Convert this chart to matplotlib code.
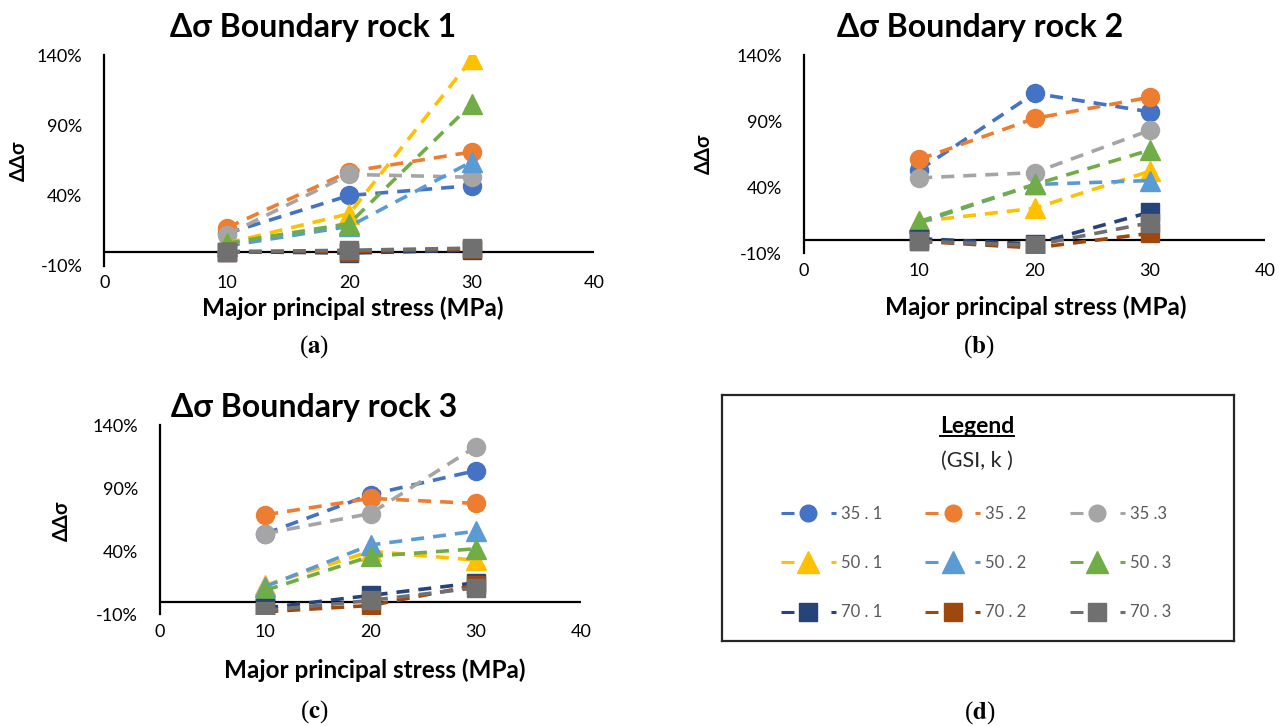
import numpy as np
import matplotlib
matplotlib.use('Agg')
from matplotlib import pyplot as plt
from matplotlib.lines import Line2D
from matplotlib.ticker import FuncFormatter

plt.rcParams['font.family'] = ['Lato', 'Noto Sans', 'DejaVu Sans']
plt.rcParams['mathtext.fontset'] = 'stix'

# stress levels (MPa) and series names (GSI, k)
stress = [10, 20, 30]
series = ['35 . 1', '35 . 2', '35 .3', '50 . 1', '50 . 2', '50 . 3', '70 . 1', '70 . 2', '70 . 3']
colors = ['#4472C4', '#ED7D31', '#A5A5A5', '#FFC000', '#5B9BD5', '#70AD47',
          '#264478', '#9E480E', '#707070']
markers = ['o', 'o', 'o', '^', '^', '^', 's', 's', 's']

# ΔΔσ in percent, one row per series
rock1 = [[13, 40, 47],
         [17, 57, 71],
         [12, 55, 53],
         [6, 27, 137],
         [4, 18, 64],
         [6, 20, 105],
         [0, -1, 1],
         [0, 0, 2],
         [0, 1, 2.5]]

rock2 = [[53, 111, 97],
         [61, 92, 108],
         [47, 51, 83],
         [14, 24, 52],
         [13, 42, 45],
         [14, 42, 68],
         [1, -3, 21],
         [-1, -6, 5],
         [-1, -4, 13]]

rock3 = [[54, 85, 104],
         [69, 82, 78],
         [54, 70, 123],
         [13, 40, 33],
         [12, 45, 56],
         [9, 36, 42],
         [-5, 5, 15],
         [-8, -3, 13],
         [-7, 1, 11]]

W, H = 1288, 726
fig = plt.figure(figsize=(W / 100, H / 100), dpi=100)


def box(l, t, r, b):
    # pixel box -> figure fraction rect
    return [l / W, 1 - b / H, (r - l) / W, (b - t) / H]


def panel(rect, data, title, title_xy, ylab_xy, xlab_xy, sub, sub_xy):
    ax = fig.add_axes(rect)
    for i in range(len(series)):
        ms = 13 if markers[i] == 'o' else (15 if markers[i] == '^' else 13.5)
        ax.plot(stress, data[i], color=colors[i], lw=2.6, dashes=(3.6, 2.5),
                marker=markers[i], markersize=ms, mec=colors[i], mew=1)
    ax.set_xlim(0, 40)
    ax.set_ylim(-10, 140)
    ax.set_xticks([0, 10, 20, 30, 40])
    ax.set_yticks([-10, 40, 90, 140])
    ax.yaxis.set_major_formatter(FuncFormatter(lambda v, p: '%d%%' % v))
    for s in ['top', 'right', 'bottom']:
        ax.spines[s].set_visible(False)
    ax.spines['left'].set_linewidth(1.6)
    ax.axhline(0, color='black', lw=1.6, zorder=0)
    ax.tick_params(axis='y', length=0, pad=16, labelsize=13)
    ax.tick_params(axis='x', length=0, pad=7, labelsize=13)
    ax.patch.set_alpha(0)

    fig.text(title_xy[0] / W, 1 - title_xy[1] / H, title, ha='center', va='center',
             fontsize=23, fontweight='bold')
    fig.text(ylab_xy[0] / W, 1 - ylab_xy[1] / H, 'ΔΔσ', ha='center', va='center',
             rotation=90, fontsize=14.5, fontweight='bold')
    fig.text(xlab_xy[0] / W, 1 - xlab_xy[1] / H, 'Major principal stress (MPa)',
             ha='center', va='center', fontsize=17.5, fontweight='bold')
    fig.text(sub_xy[0] / W, 1 - sub_xy[1] / H, r'($\mathbf{%s}$)' % sub,
             ha='center', va='center', fontsize=18, family='Liberation Serif')
    return ax


panel(box(104.5, 55, 594, 265.7), rock1, 'Δσ Boundary rock 1',
      (313, 27), (19, 161), (353, 308), 'a', (314, 347))
panel(box(804, 55, 1265, 253.2), rock2, 'Δσ Boundary rock 2',
      (980, 27), (704, 154), (1036, 307), 'b', (979, 347))
panel(box(160, 425.3, 581, 614.3), rock3, 'Δσ Boundary rock 3',
      (314, 408), (62, 521), (375, 670), 'c', (314, 712))

# legend panel
axd = fig.add_axes(box(722, 395, 1234, 641))
axd.set_xticks([])
axd.set_yticks([])
for s in axd.spines.values():
    s.set_linewidth(1.6)
    s.set_color('#262626')

t_leg = fig.text(977 / W, 1 - 426 / H, 'Legend', ha='center', va='center',
                 fontsize=16.5, fontweight='bold')
fig.text(977 / W, 1 - 461 / H, '(GSI, k )', ha='center', va='center',
         fontsize=15.5, color='#262626')

handles = []
for i in range(len(series)):
    ms = 12 if markers[i] == 'o' else (16 if markers[i] == '^' else 13)
    handles.append(Line2D([], [], color=colors[i], lw=2.2, dashes=(4.25, 12.1),
                          marker=markers[i], markersize=ms, mec=colors[i]))
# legend fills column by column, so reorder to read row by row
order = [0, 3, 6, 1, 4, 7, 2, 5, 8]
axd.legend([handles[k] for k in order], [series[k] for k in order], ncol=3,
           loc='center', bbox_to_anchor=(976 / W, 1 - 563 / H),
           bbox_transform=fig.transFigure, frameon=False, fontsize=12,
           labelcolor='#595959', handlelength=3.3, handletextpad=0.3,
           columnspacing=2.6, labelspacing=2.0, borderpad=0)

fig.text(980 / W, 1 - 713 / H, r'($\mathbf{d}$)', ha='center', va='center',
         fontsize=18, family='Liberation Serif')

# underline under the legend heading
fig.canvas.draw()
bb = t_leg.get_window_extent()
fig.add_artist(Line2D([bb.x0 / W, bb.x1 / W], [(bb.y0 + 1) / H, (bb.y0 + 1) / H],
                      color='black', lw=1.4, transform=fig.transFigure))

fig.savefig('out.png', dpi=100)
